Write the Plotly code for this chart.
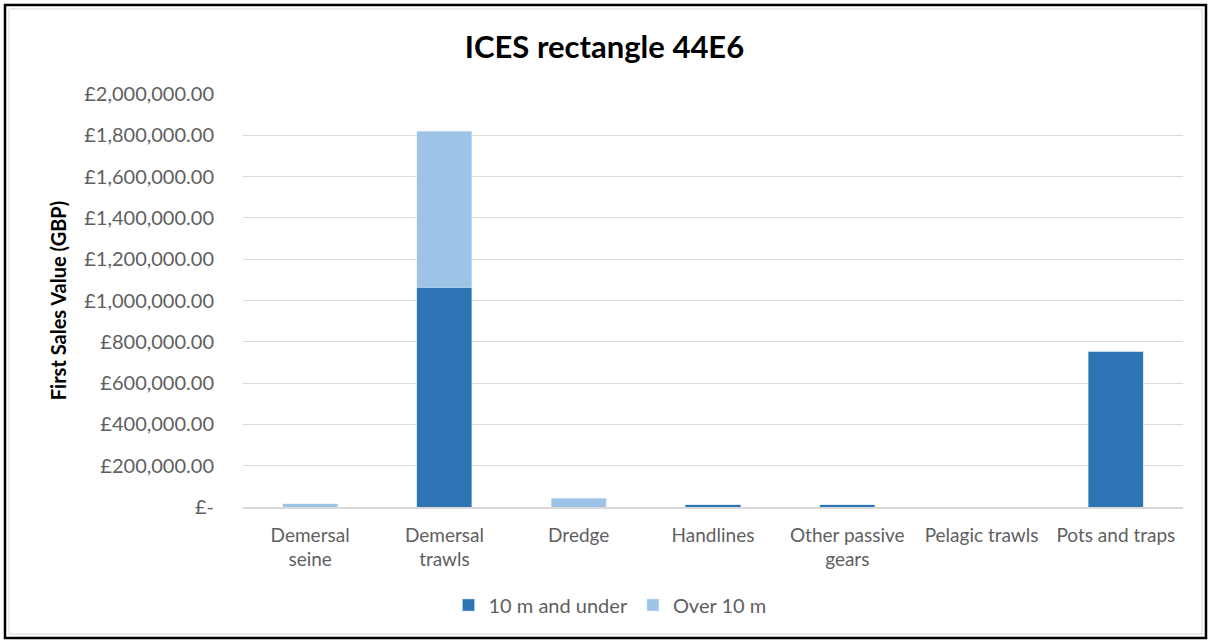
import plotly.graph_objects as go

# Gear categories (axis labels wrap onto two lines where needed)
categories = ["Demersal seine", "Demersal trawls", "Dredge", "Handlines",
              "Other passive gears", "Pelagic trawls", "Pots and traps"]
category_labels = ["Demersal<br>seine", "Demersal<br>trawls", "Dredge", "Handlines",
                   "Other passive<br>gears", "Pelagic trawls", "Pots and traps"]

# First sales value (GBP) by vessel length class
under_10m = [0, 1065000, 0, 10000, 10000, 0, 755000]
over_10m = [16000, 755000, 42000, 0, 0, 0, 0]

tick_values = [0, 200000, 400000, 600000, 800000, 1000000, 1200000,
               1400000, 1600000, 1800000, 2000000]
tick_labels = ["£-", "£200,000.00", "£400,000.00", "£600,000.00", "£800,000.00",
               "£1,000,000.00", "£1,200,000.00", "£1,400,000.00", "£1,600,000.00",
               "£1,800,000.00", "£2,000,000.00"]

W, H = 1209, 641
ML, MR, MT, MB = 243, 26, 94, 134
PW, PH = W - ML - MR, H - MT - MB

font_family = "Lato, Open Sans, sans-serif"
text_grey = "#5f5f5f"

fig = go.Figure()
fig.add_trace(go.Bar(x=categories, y=under_10m, name="10 m and under",
                     marker=dict(color="#2E75B6", line=dict(color="#BDD7EE", width=0.5))))
fig.add_trace(go.Bar(x=categories, y=over_10m, name="Over 10 m",
                     marker=dict(color="#9DC3E6", line=dict(color="#DEEBF7", width=0.5))))


def px_x(p):
    return (p - ML) / PW


def px_y(p):
    return (H - MB - p) / PH


# Outer frame around the whole chart
fig.add_shape(type="rect", xref="paper", yref="paper",
              x0=px_x(5), x1=px_x(1206), y0=px_y(5), y1=px_y(638),
              line=dict(color="#000000", width=2.5), fillcolor="rgba(0,0,0,0)",
              layer="below")
fig.add_shape(type="rect", xref="paper", yref="paper",
              x0=px_x(9), x1=px_x(1202), y0=px_y(9), y1=px_y(634),
              line=dict(color="#D9D9D9", width=1), fillcolor="rgba(0,0,0,0)",
              layer="below")

fig.update_layout(
    width=W, height=H,
    margin=dict(l=ML, r=MR, t=MT, b=MB),
    paper_bgcolor="white", plot_bgcolor="white",
    barmode="stack", bargap=0.59,
    font=dict(family=font_family, color=text_grey, size=19),
    title=dict(text="<b>ICES rectangle 44E6</b>", x=0.5, xanchor="center",
               xref="container", y=1 - 47 / H, yanchor="middle",
               font=dict(size=31, color="#000000", family=font_family)),
    xaxis=dict(tickmode="array", tickvals=categories, ticktext=category_labels,
               showline=True, linecolor="#D9D9D9", linewidth=1.5,
               ticks="", tickfont=dict(size=19, color=text_grey),
               ticklabelstandoff=10, showgrid=False),
    yaxis=dict(range=[0, 2000000], tickmode="array", tickvals=tick_values,
               ticktext=tick_labels, showgrid=True, gridcolor="#D9D9D9",
               gridwidth=1, zeroline=False, ticks="", ticklabelstandoff=28,
               tickfont=dict(size=20, color=text_grey),
               title=dict(text="<b>First Sales Value (GBP)</b>", standoff=12,
                          font=dict(size=20, color="#000000"))),
    legend=dict(orientation="h", x=px_x(610), xanchor="center", y=px_y(605),
                yanchor="middle", font=dict(size=20, color=text_grey),
                itemwidth=30, traceorder="normal"),
    showlegend=True,
)

fig.write_html("out.html")
